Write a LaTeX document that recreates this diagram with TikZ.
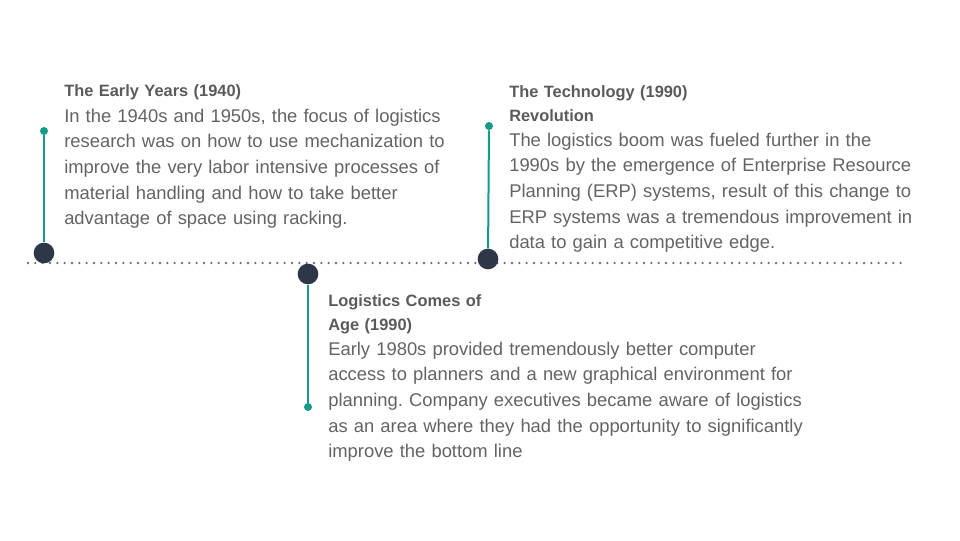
\documentclass[tikz,border=0pt]{standalone}
\usepackage{fontspec}
\setmainfont{Liberation Sans}
\frenchspacing
\definecolor{navy}{HTML}{2E3748}
\definecolor{stemteal}{HTML}{159A8A}
\definecolor{dotgrey}{HTML}{707070}
\definecolor{titlegrey}{HTML}{5A5A5A}
\definecolor{bodygrey}{HTML}{636363}
\begin{document}
\begin{tikzpicture}[x=0.75pt,y=-0.75pt,
  bigdot/.style={circle, fill=navy, minimum size=15.5pt, inner sep=0pt},
  smalldot/.style={circle, fill=stemteal, minimum size=6pt, inner sep=0pt},
  stem/.style={draw=stemteal, line width=1.5pt},
  axis/.style={draw=dotgrey, line width=1.9pt, line cap=round, dash pattern=on 0pt off 5.5pt},
  ttl/.style={font=\fontsize{12.3pt}{18pt}\selectfont\bfseries\frenchspacing, text=titlegrey, anchor=base west, inner sep=0pt, align=left, text width=480pt},
  bdy/.style={font=\fontsize{13.8pt}{19.3pt}\selectfont\frenchspacing, text=bodygrey, anchor=base west, inner sep=0pt, align=left, text width=480pt}]
\useasboundingbox (0,0) rectangle (960,540);
% axis
\coordinate (axL) at (28,263);
\coordinate (axR) at (902,263);
\draw[axis] (axL) -- (axR);
% markers
\node[bigdot] (c1) at (44,253) {};
\node[smalldot] (s1) at (44,131) {};
\node[bigdot] (c2) at (308,274) {};
\node[smalldot] (s2) at (308,407) {};
\node[bigdot] (c3) at (488,259) {};
\node[smalldot] (s3) at (489,126) {};
\draw[stem] (s1) -- (c1);
\draw[stem] (c2) -- (s2);
\draw[stem] (s3) -- (c3);
% texts
\node[ttl] (t1) at (64,96) {The Early Years (1940)};
\node[bdy] (b1) at (64,122) {In the 1940s and 1950s, the focus of logistics\\research was on how to use mechanization to\\improve the very labor intensive processes of\\material handling and how to take better\\advantage of space using racking.};
\node[ttl] (t3) at (509,97) {The Technology (1990)\\Revolution};
\node[bdy] (b3) at (509,146) {The logistics boom was fueled further in the\\1990s by the emergence of Enterprise Resource\\Planning (ERP) systems, result of this change to\\ERP systems was a tremendous improvement in\\data to gain a competitive edge.};
\node[ttl] (t2) at (328,306) {Logistics Comes of\\Age (1990)};
\node[bdy] (b2) at (328,355) {Early 1980s provided tremendously better computer\\access to planners and a new graphical environment for\\planning. Company executives became aware of logistics\\as an area where they had the opportunity to significantly\\improve the bottom line};
\end{tikzpicture}
\end{document}
